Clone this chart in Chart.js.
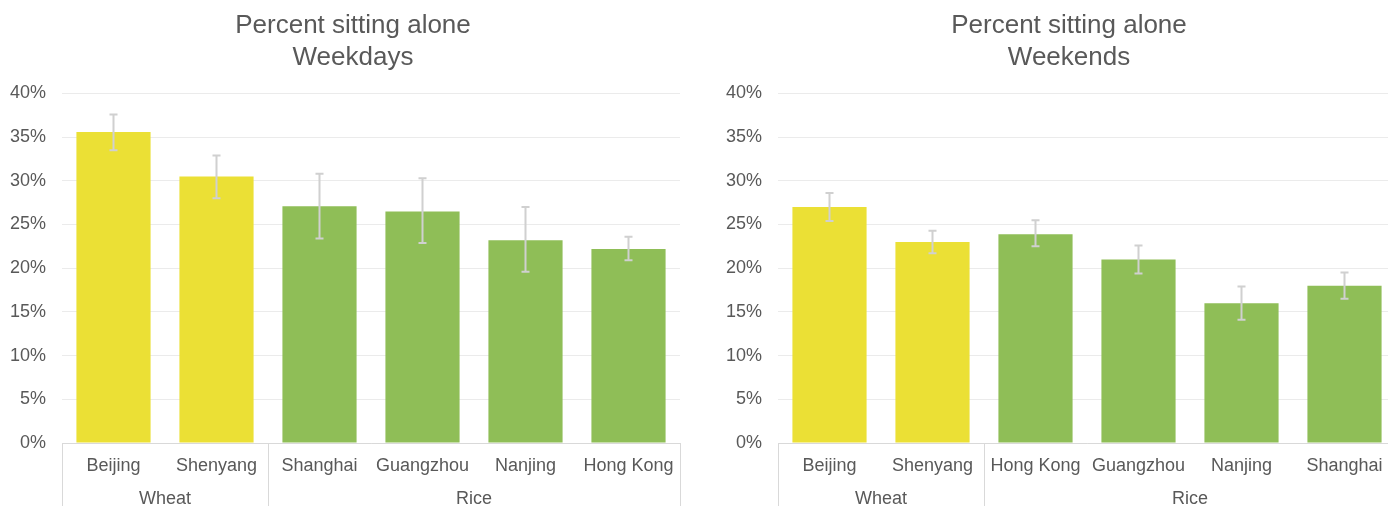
<!DOCTYPE html>
<html>
<head>
<meta charset="utf-8">
<script src="https://cdn.jsdelivr.net/npm/chart.js@4.4.1/dist/chart.umd.min.js"></script>
<style>
  html, body { margin: 0; padding: 0; background: #fff; overflow: hidden; }
  body { width: 1388px; height: 506px; position: relative; }
  .panel { position: absolute; top: 0; }
</style>
</head>
<body>
<div class="panel" style="left:0px"><canvas id="weekdays" width="706" height="514"></canvas></div>
<div class="panel" style="left:716px"><canvas id="weekends" width="706" height="514"></canvas></div>
<script>
// chart data
const weekdayCities = ['Beijing', 'Shenyang', 'Shanghai', 'Guangzhou', 'Nanjing', 'Hong Kong'];
const weekdayGroups = ['Wheat', 'Wheat', 'Rice', 'Rice', 'Rice', 'Rice'];
const weekdayValues = [35.6, 30.5, 27.1, 26.5, 23.2, 22.2];
const weekdayErrLow = [33.5, 28.0, 23.4, 22.9, 19.6, 20.9];
const weekdayErrHigh = [37.6, 32.9, 30.8, 30.3, 27.0, 23.6];

const weekendCities = ['Beijing', 'Shenyang', 'Hong Kong', 'Guangzhou', 'Nanjing', 'Shanghai'];
const weekendGroups = ['Wheat', 'Wheat', 'Rice', 'Rice', 'Rice', 'Rice'];
const weekendValues = [27.0, 23.0, 23.9, 21.0, 16.0, 18.0];
const weekendErrLow = [25.4, 21.7, 22.5, 19.4, 14.1, 16.5];
const weekendErrHigh = [28.6, 24.3, 25.5, 22.6, 17.9, 19.5];

const yTicks = [0, 5, 10, 15, 20, 25, 30, 35, 40];

const WHEAT = '#ebe035';
const RICE = '#8fbe57';
const TEXT = '#595959';
const FONT = "'Liberation Sans', Arial, sans-serif";

// error bars drawn with the y scale
const errorBars = {
    id: 'errorBars',
    afterDatasetsDraw(chart, args, opts) {
        const { ctx, scales: { x, y } } = chart;
        ctx.save();
        ctx.strokeStyle = '#d0d0d0';
        ctx.lineWidth = 2;
        opts.low.forEach((lo, i) => {
            const px = x.getPixelForValue(i);
            const yLo = y.getPixelForValue(lo);
            const yHi = y.getPixelForValue(opts.high[i]);
            ctx.beginPath();
            ctx.moveTo(px, yLo); ctx.lineTo(px, yHi);
            ctx.moveTo(px - 4, yLo); ctx.lineTo(px + 4, yLo);
            ctx.moveTo(px - 4, yHi); ctx.lineTo(px + 4, yHi);
            ctx.stroke();
        });
        ctx.restore();
    }
};

// second row of category labels (Wheat / Rice) with separators
const groupAxis = {
    id: 'groupAxis',
    afterDraw(chart, args, opts) {
        const { ctx, chartArea, scales: { x } } = chart;
        const groups = opts.groups;
        const edges = [chartArea.left];
        const names = [groups[0]];
        for (let i = 1; i < groups.length; i++) {
            if (groups[i] !== groups[i - 1]) {
                edges.push((x.getPixelForValue(i - 1) + x.getPixelForValue(i)) / 2);
                names.push(groups[i]);
            }
        }
        edges.push(chartArea.right);

        ctx.save();
        ctx.strokeStyle = '#d9d9d9';
        ctx.lineWidth = 1;
        edges.forEach(ex => {
            const px = Math.round(ex) + 0.5;
            ctx.beginPath();
            ctx.moveTo(px, chartArea.bottom);
            ctx.lineTo(px, chart.height);
            ctx.stroke();
        });
        ctx.fillStyle = TEXT;
        ctx.font = '18px ' + FONT;
        ctx.textAlign = 'center';
        ctx.textBaseline = 'middle';
        names.forEach((n, k) => {
            ctx.fillText(n, (edges[k] + edges[k + 1]) / 2, chartArea.bottom + 56);
        });
        ctx.restore();
    }
};

function makeChart(canvasId, subtitle, cities, groups, values, errLow, errHigh) {
    const ctx = document.getElementById(canvasId).getContext('2d');
    return new Chart(ctx, {
        type: 'bar',
        data: {
            labels: cities,
            datasets: [{
                data: values,
                backgroundColor: groups.map(g => g === 'Wheat' ? WHEAT : RICE),
                barPercentage: 0.72,
                categoryPercentage: 1,
            }]
        },
        options: {
            responsive: false,
            animation: false,
            scales: {
                x: {
                    grid: { display: false, drawTicks: false },
                    border: { color: '#d9d9d9' },
                    ticks: { color: TEXT, font: { family: FONT, size: 18 }, padding: 12, maxRotation: 0, autoSkip: false },
                    afterFit: s => { s.height = 71; }
                },
                y: {
                    min: 0,
                    max: 40,
                    afterBuildTicks: s => { s.ticks = yTicks.map(v => ({ value: v })); },
                    grid: { color: '#ebebeb', drawTicks: false },
                    border: { display: false },
                    ticks: { color: TEXT, font: { family: FONT, size: 18 }, padding: 16, callback: v => v + '%' },
                    afterFit: s => { s.width = 62; }
                },
                // empty strip on the right so the title stays centred on the whole panel
                gap: {
                    position: 'right',
                    display: true,
                    grid: { display: false, drawTicks: false },
                    border: { display: false },
                    ticks: { display: false },
                    afterFit: s => { s.width = 26; }
                }
            },
            plugins: {
                legend: { display: false },
                tooltip: { enabled: false },
                title: {
                    display: true,
                    text: ['Percent sitting alone', subtitle],
                    color: TEXT,
                    font: { family: FONT, size: 26, weight: 'normal', lineHeight: 1.22 },
                    padding: { top: 10, bottom: 20 }
                },
                errorBars: { low: errLow, high: errHigh },
                groupAxis: { groups: groups }
            }
        },
        plugins: [errorBars, groupAxis]
    });
}

makeChart('weekdays', 'Weekdays', weekdayCities, weekdayGroups, weekdayValues, weekdayErrLow, weekdayErrHigh);
makeChart('weekends', 'Weekends', weekendCities, weekendGroups, weekendValues, weekendErrLow, weekendErrHigh);
</script>
</body>
</html>
